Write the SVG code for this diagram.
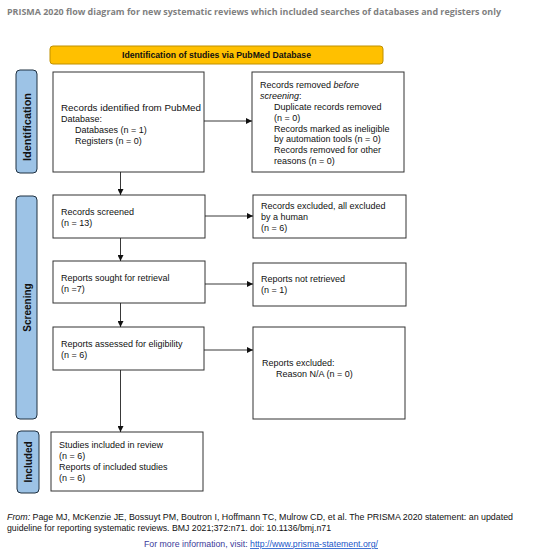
<svg xmlns="http://www.w3.org/2000/svg" width="550" height="557" viewBox="0 0 550 557">
<style>
.t{font-family:"Liberation Sans",Arial,sans-serif;font-size:9px;fill:#111}
.box{fill:#fff;stroke:#333;stroke-width:1}
.side{fill:#9dc3e6;stroke:#1f3040;stroke-width:1}
.sl{font-family:"Liberation Sans",Arial,sans-serif;font-size:10px;font-weight:bold;fill:#111;text-anchor:middle}
.c{stroke:#222;stroke-width:0.9;fill:none;marker-end:url(#ah)}
</style>
<defs>
<marker id="ah" viewBox="0 0 10 10" refX="10" refY="5" markerWidth="6" markerHeight="6" markerUnits="userSpaceOnUse" orient="auto">
<path d="M0,0 L10,5 L0,10 z" fill="#111"/>
</marker>
</defs>
<rect width="550" height="557" fill="#fff"/>
<text x="7" y="15" font-family="'Open Sans','Liberation Sans',sans-serif" font-size="9.6" font-weight="bold" fill="#7f7f7f" textLength="494" lengthAdjust="spacingAndGlyphs">PRISMA 2020 flow diagram for new systematic reviews which included searches of databases and registers only</text>

<g id="banner">
<rect x="50" y="46" width="333" height="18" rx="3" fill="#ffc000" stroke="#bf9000" stroke-width="1"/>
<text x="216.5" y="58" font-family="'Liberation Sans',Arial,sans-serif" font-size="8.2" font-weight="bold" fill="#111" text-anchor="middle" textLength="189" lengthAdjust="spacingAndGlyphs">Identification of studies via PubMed Database</text>
</g>

<g id="label-identification">
<rect class="side" x="16" y="70" width="21" height="103" rx="4"/>
<text class="sl" transform="translate(30.5,127) rotate(-90)" textLength="68" lengthAdjust="spacingAndGlyphs">Identification</text>
</g>
<g id="label-screening">
<rect class="side" x="16" y="196" width="21" height="223" rx="4"/>
<text class="sl" transform="translate(30.5,307.5) rotate(-90)">Screening</text>
</g>
<g id="label-included">
<rect class="side" x="17" y="431" width="22" height="62" rx="4"/>
<text class="sl" transform="translate(31.5,462) rotate(-90)">Included</text>
</g>

<g id="identified">
<rect class="box" x="53" y="72" width="151" height="100"/>
<text class="t" x="61" y="110.5" textLength="140" lengthAdjust="spacingAndGlyphs">Records identified from PubMed</text>
<text class="t" x="61" y="121.5">Database:</text>
<text class="t" x="75" y="132.5">Databases (n = 1)</text>
<text class="t" x="75" y="143.5">Registers (n = 0)</text>
</g>

<g id="removed">
<rect class="box" x="252" y="72" width="152" height="100"/>
<text class="t" x="260" y="88">Records removed <tspan font-style="italic">before</tspan></text>
<text class="t" x="260" y="99"><tspan font-style="italic">screening</tspan>:</text>
<text class="t" x="274" y="110">Duplicate records removed</text>
<text class="t" x="274" y="120.8">(n = 0)</text>
<text class="t" x="274" y="131.6">Records marked as ineligible</text>
<text class="t" x="274" y="142.4">by automation tools (n = 0)</text>
<text class="t" x="274" y="153.2">Records removed for other</text>
<text class="t" x="274" y="164">reasons (n = 0)</text>
</g>

<g id="screened">
<rect class="box" x="53" y="195" width="152" height="43"/>
<text class="t" x="61" y="215">Records screened</text>
<text class="t" x="61" y="226">(n = 13)</text>
</g>

<g id="excluded">
<rect class="box" x="253" y="195" width="153" height="43"/>
<text class="t" x="261" y="209">Records excluded, all excluded</text>
<text class="t" x="261" y="220">by a human</text>
<text class="t" x="261" y="231">(n = 6)</text>
</g>

<g id="sought">
<rect class="box" x="53" y="261" width="152" height="42"/>
<text class="t" x="61" y="281">Reports sought for retrieval</text>
<text class="t" x="61" y="292">(n =7)</text>
</g>

<g id="notretrieved">
<rect class="box" x="253" y="263" width="153" height="43"/>
<text class="t" x="261" y="282">Reports not retrieved</text>
<text class="t" x="261" y="293">(n = 1)</text>
</g>

<g id="assessed">
<rect class="box" x="53" y="327" width="151" height="43"/>
<text class="t" x="61" y="347">Reports assessed for eligibility</text>
<text class="t" x="61" y="358">(n = 6)</text>
</g>

<g id="reportsexcluded">
<rect class="box" x="253" y="327" width="152" height="92"/>
<text class="t" x="262" y="366">Reports excluded:</text>
<text class="t" x="276" y="376.5">Reason N/A (n = 0)</text>
</g>

<g id="included">
<rect class="box" x="51" y="432" width="152" height="59"/>
<text class="t" x="59" y="448">Studies included in review</text>
<text class="t" x="59" y="459">(n = 6)</text>
<text class="t" x="59" y="470">Reports of included studies</text>
<text class="t" x="59" y="481">(n = 6)</text>
</g>

<g id="connectors">
<line class="c" x1="204" y1="121" x2="252" y2="121"/>
<line class="c" x1="120.5" y1="172" x2="120.5" y2="195"/>
<line class="c" x1="205" y1="216" x2="253" y2="216"/>
<line class="c" x1="120.5" y1="238" x2="120.5" y2="261"/>
<line class="c" x1="205" y1="284" x2="253" y2="284"/>
<line class="c" x1="120.5" y1="303" x2="120.5" y2="327"/>
<line class="c" x1="204" y1="350" x2="253" y2="350"/>
<line class="c" x1="120.5" y1="370" x2="120.5" y2="432"/>
</g>

<g id="footer">
<text class="t" x="7" y="520" font-size="8.2" textLength="506" lengthAdjust="spacingAndGlyphs"><tspan font-style="italic">From:</tspan>  Page MJ, McKenzie JE, Bossuyt PM, Boutron I, Hoffmann TC, Mulrow CD, et al. The PRISMA 2020 statement: an updated</text>
<text class="t" x="7" y="531" font-size="8.2" textLength="324" lengthAdjust="spacingAndGlyphs">guideline for reporting systematic reviews. BMJ 2021;372:n71. doi: 10.1136/bmj.n71</text>
<text x="144" y="547" font-family="'Liberation Sans',Arial,sans-serif" font-size="8.2" fill="#3b3b9a" textLength="234" lengthAdjust="spacingAndGlyphs">For more information, visit: <tspan fill="#1a56c8" text-decoration="underline">http://www.prisma-statement.org/</tspan></text>
</g>
</svg>
